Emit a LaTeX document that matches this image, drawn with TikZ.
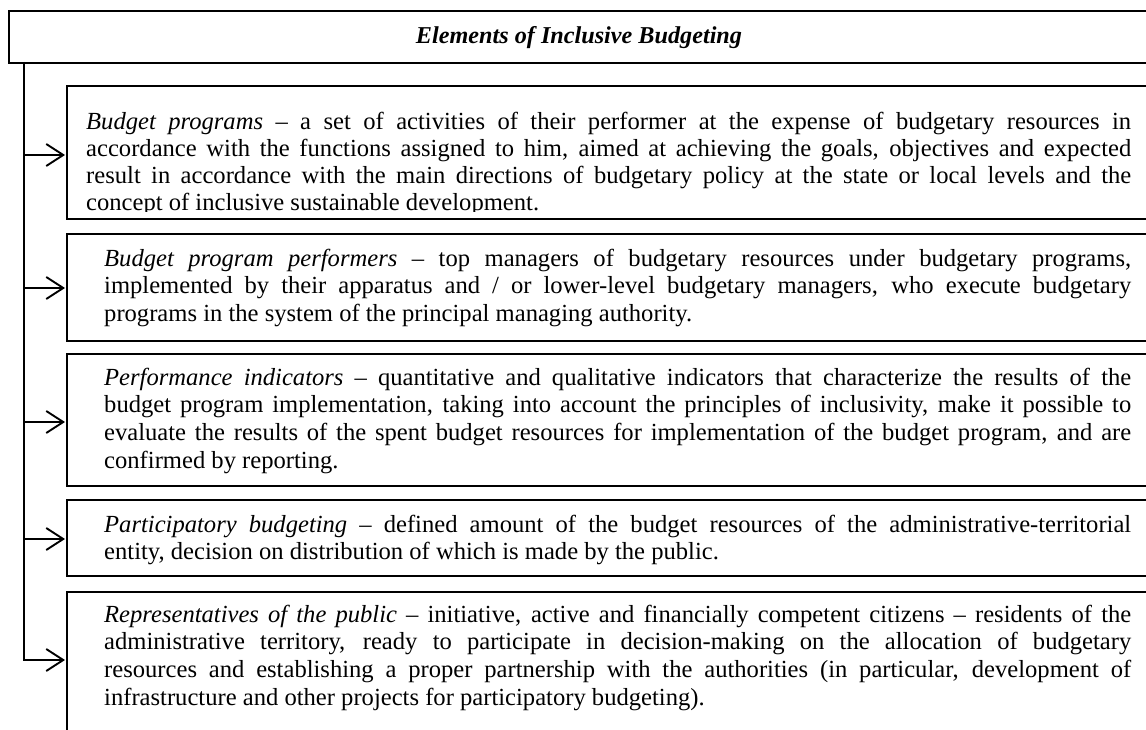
\documentclass[tikz,border=0pt]{standalone}
\usepackage{fontspec}
\setmainfont{Liberation Serif}
\usetikzlibrary{arrows.meta}
\newcommand\fullline[1]{\hbox to\hsize{#1}}
\newcommand\lastline[1]{\hbox{#1}}
\newcommand\bodyfont{\fontsize{24.6}{27.8}\selectfont}
\begin{document}
\begin{tikzpicture}[x=1pt,y=-1pt,
  frame/.style={draw=black, line width=1.9pt, inner sep=0pt, anchor=north west},
  conn/.style={line width=1.9pt, shorten >=1pt, -{Straight Barb[length=17pt,width=22pt,line width=1.9pt]}},
  deftext/.style={anchor=base west, inner sep=0pt, font=\bodyfont},
]
\useasboundingbox (0,0) rectangle (1146,730);
\fill[white] (0,0) rectangle (1146,730);

% header
\node[frame, minimum width=1144pt, minimum height=52pt] (hdr) at (8,10) {};
\node[anchor=base, inner sep=0pt, font=\fontsize{24.2}{28}\selectfont\bfseries\itshape] (title) at (579,44) {Elements of Inclusive Budgeting};

% boxes
\node[frame, minimum width=1090pt, minimum height=133pt] (b1) at (66,85) {};
\node[frame, minimum width=1090pt, minimum height=107pt] (b2) at (66,233) {};
\node[frame, minimum width=1090pt, minimum height=132pt] (b3) at (66,353) {};
\node[frame, minimum width=1090pt, minimum height=76pt] (b4) at (66,499) {};
\node[frame, minimum width=1090pt, minimum height=160pt] (b5) at (66,591) {};

% texts
\begin{scope}
\clip (67,86) rectangle (1146,211.5);
\node[deftext] (t1) at (86,130) {\parbox[t]{1045pt}{\baselineskip=26.7pt
\fullline{\textit{Budget programs} – a set of activities of their performer at the expense of budgetary resources in}%
\fullline{accordance with the functions assigned to him, aimed at achieving the goals, objectives and expected}%
\fullline{result in accordance with the main directions of budgetary policy at the state or local levels and the}%
\lastline{concept of inclusive sustainable development.}}};
\end{scope}

\node[deftext] (t2) at (104,266) {\parbox[t]{1027pt}{%
\fullline{\textit{Budget program performers} – top managers of budgetary resources under budgetary programs,}%
\fullline{implemented by their apparatus and / or lower-level budgetary managers, who execute budgetary}%
\lastline{programs in the system of the principal managing authority.}}};

\node[deftext] (t3) at (104,385) {\parbox[t]{1027pt}{%
\fullline{\textit{Performance indicators} – quantitative and qualitative indicators that characterize the results of the}%
\fullline{budget program implementation, taking into account the principles of inclusivity, make it possible to}%
\fullline{evaluate the results of the spent budget resources for implementation of the budget program, and are}%
\lastline{confirmed by reporting.}}};

\node[deftext] (t4) at (104,532) {\parbox[t]{1027pt}{%
\fullline{\textit{Participatory budgeting} – defined amount of the budget resources of the administrative-territorial}%
\lastline{entity, decision on distribution of which is made by the public.}}};

\node[deftext] (t5) at (104,622) {\parbox[t]{1027pt}{%
\fullline{\textit{Representatives of the public} – initiative, active and financially competent citizens – residents of the}%
\fullline{administrative territory, ready to participate in decision-making on the allocation of budgetary}%
\fullline{resources and establishing a proper partnership with the authorities (in particular, development of}%
\lastline{infrastructure and other projects for participatory budgeting).}}};

% connectors
\coordinate (top) at (24,62);
\coordinate (j1) at (24,155);
\coordinate (j2) at (24,288);
\coordinate (j3) at (24,422);
\coordinate (j4) at (24,539);
\coordinate (j5) at (24,660);
\draw[conn] (top) -- (j5) -- (b5.west |- j5);
\draw[conn] (j1) -- (b1.west |- j1);
\draw[conn] (j2) -- (b2.west |- j2);
\draw[conn] (j3) -- (b3.west |- j3);
\draw[conn] (j4) -- (b4.west |- j4);
\end{tikzpicture}
\end{document}
